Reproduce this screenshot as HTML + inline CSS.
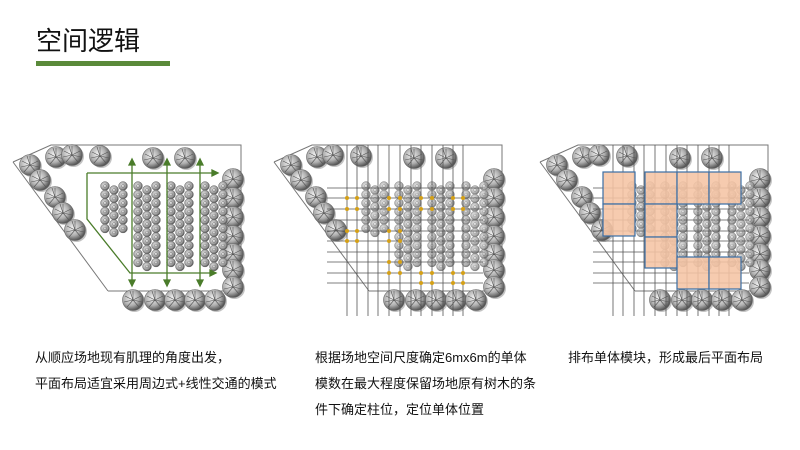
<!DOCTYPE html>
<html><head><meta charset="utf-8"><style>
body{margin:0;width:800px;height:450px;background:#fff;overflow:hidden;position:relative;font-family:"Liberation Sans","Noto Sans CJK SC",sans-serif;}
.t{position:absolute;font-size:13px;color:#111;line-height:26px;white-space:nowrap}
</style></head><body>
<div style="position:absolute;left:36px;top:24px;font-size:26px;color:#111;line-height:34px">空间逻辑</div>
<div style="position:absolute;left:36px;top:61px;width:134px;height:5px;background:#5a8a3a"></div>
<svg width="800" height="450" style="position:absolute;left:0;top:0">
<defs>
<radialGradient id="gb" cx="40%" cy="40%" r="60%"><stop offset="0" stop-color="#f4f4f4"/><stop offset="0.6" stop-color="#b0b0b0"/><stop offset="1" stop-color="#555"/></radialGradient>
<radialGradient id="gs" cx="40%" cy="40%" r="60%"><stop offset="0" stop-color="#e8e8e8"/><stop offset="0.7" stop-color="#9a9a9a"/><stop offset="1" stop-color="#555"/></radialGradient>
<g id="B"><circle cx="1.5" cy="1.5" r="10.5" fill="#888" opacity=".5"/><circle r="10.5" fill="url(#gb)" stroke="#666" stroke-width=".6"/><path d="M0 0L0 -9M0 0L8 -4M0 0L6 7M0 0L-6 7M0 0L-8 -4M0 0L-3 -9M0 0L9 2M0 0L-9 2" stroke="#555" stroke-width=".6"/></g>
<g id="s"><circle r="4.4" fill="url(#gs)" stroke="#666" stroke-width=".5"/><circle r="1.5" fill="none" stroke="#666" stroke-width=".4"/></g>
<g id="c6"><use href="#s" y="0"/><use href="#s" y="8.5"/><use href="#s" y="17"/><use href="#s" y="25.5"/><use href="#s" y="34"/><use href="#s" y="42.5"/></g>
<g id="c10"><use href="#c6"/><use href="#s" y="51"/><use href="#s" y="59.5"/><use href="#s" y="68"/><use href="#s" y="76.5"/></g>
<g id="g10"><use href="#c10" x="0"/><use href="#c10" x="9" y="4"/><use href="#c10" x="18"/></g>
<g id="small">
<use href="#c6" x="105" y="186"/><use href="#c6" x="114" y="190"/><use href="#c6" x="123" y="186"/>
<use href="#g10" x="138" y="186"/><use href="#g10" x="171" y="186"/><use href="#g10" x="205" y="186"/>
</g>
<g id="base">
<path d="M13 162 L51 145 L241 145 L241 290 M108 291 L13 162 M108 291 L241 291" fill="none" stroke="#777" stroke-width="1"/>
<use href="#B" x="30" y="165"/><use href="#B" x="56" y="157"/><use href="#B" x="72" y="155"/><use href="#B" x="100" y="156"/><use href="#B" x="153" y="158"/><use href="#B" x="185" y="158"/>
<use href="#B" x="40" y="180"/><use href="#B" x="55" y="197"/><use href="#B" x="63" y="213"/><use href="#B" x="75" y="230"/>
<use href="#B" x="233" y="179"/><use href="#B" x="233" y="198"/><use href="#B" x="233" y="217"/><use href="#B" x="233" y="236"/><use href="#B" x="233" y="254"/><use href="#B" x="233" y="270"/><use href="#B" x="233" y="287"/>
<use href="#B" x="133" y="300"/><use href="#B" x="155" y="300"/><use href="#B" x="175" y="300"/><use href="#B" x="195" y="300"/><use href="#B" x="215" y="300"/>
</g>
<g id="grid" stroke="#555" stroke-width=".8">
<path d="M86 145V316M96 145V316M107 145V316M117 145V316M128 145V316M139 145V316M150 145V316M160 145V316M171 145V316M182 145V316M192 145V316M202 145V316"/>
<path d="M66 188H222M66 198H222M66 209H222M66 220H222M66 231H222M66 241H222M66 252H222M66 262H222M66 273H222M66 283H222"/>
</g>
</defs>

<use href="#base"/><use href="#small"/>
<g stroke="#4a7c2a" stroke-width="1.3" fill="#4a7c2a">
<path d="M87 173H214M87 173V219L130 273H212M132 164V281M167 164V281M200 164V281" fill="none"/>
<path d="M218 173l-6 -3v6zM216 273l-6 -3v6z"/>
<path d="M132 159l-3 6h6zM167 159l-3 6h6zM200 159l-3 6h6zM132 286l-3 -6h6zM167 286l-3 -6h6zM200 286l-3 -6h6z"/>
</g>

<g transform="translate(261,0)">
<use href="#base"/><g opacity=".8"><use href="#small"/></g><use href="#grid"/>
<g fill="#d4a017">
<circle cx="86" cy="198" r="2"/><circle cx="96" cy="198" r="2"/><circle cx="128" cy="198" r="2"/><circle cx="139" cy="198" r="2"/><circle cx="160" cy="198" r="2"/><circle cx="171" cy="198" r="2"/><circle cx="192" cy="198" r="2"/><circle cx="202" cy="198" r="2"/>
<circle cx="86" cy="209" r="2"/><circle cx="96" cy="209" r="2"/><circle cx="128" cy="209" r="2"/><circle cx="139" cy="209" r="2"/><circle cx="160" cy="209" r="2"/><circle cx="171" cy="209" r="2"/><circle cx="192" cy="209" r="2"/><circle cx="202" cy="209" r="2"/>
<circle cx="86" cy="231" r="2"/><circle cx="96" cy="231" r="2"/><circle cx="128" cy="231" r="2"/><circle cx="139" cy="231" r="2"/>
<circle cx="86" cy="241" r="2"/><circle cx="96" cy="241" r="2"/><circle cx="128" cy="241" r="2"/><circle cx="139" cy="241" r="2"/>
<circle cx="128" cy="262" r="2"/><circle cx="139" cy="262" r="2"/>
<circle cx="128" cy="273" r="2"/><circle cx="139" cy="273" r="2"/><circle cx="160" cy="273" r="2"/><circle cx="171" cy="273" r="2"/><circle cx="192" cy="273" r="2"/><circle cx="202" cy="273" r="2"/>
<circle cx="160" cy="283" r="2"/><circle cx="171" cy="283" r="2"/><circle cx="192" cy="283" r="2"/><circle cx="202" cy="283" r="2"/>
</g>
</g>

<g transform="translate(527,0)">
<use href="#base"/><g opacity=".8"><use href="#small"/></g><use href="#grid"/>
<g fill="#f5c4a4" fill-opacity=".88" stroke="#3a6ea5" stroke-width="1.2">
<rect x="76" y="172" width="32" height="32"/><rect x="76" y="204" width="32" height="32"/>
<rect x="118" y="172" width="32" height="32"/><rect x="150" y="172" width="32" height="32"/><rect x="182" y="172" width="32" height="32"/>
<rect x="118" y="204" width="32" height="33"/><rect x="118" y="237" width="32" height="31"/>
<rect x="150" y="257" width="32" height="32"/><rect x="182" y="257" width="32" height="32"/>
</g>
</g>
</svg>
<div class="t" style="left:35px;top:345px">从顺应场地现有肌理的角度出发，<br>平面布局适宜采用周边式+线性交通的模式</div>
<div class="t" style="left:315px;top:345px">根据场地空间尺度确定6mx6m的单体<br>模数在最大程度保留场地原有树木的条<br>件下确定柱位，定位单体位置</div>
<div class="t" style="left:568px;top:345px">排布单体模块，形成最后平面布局</div>
</body></html>
